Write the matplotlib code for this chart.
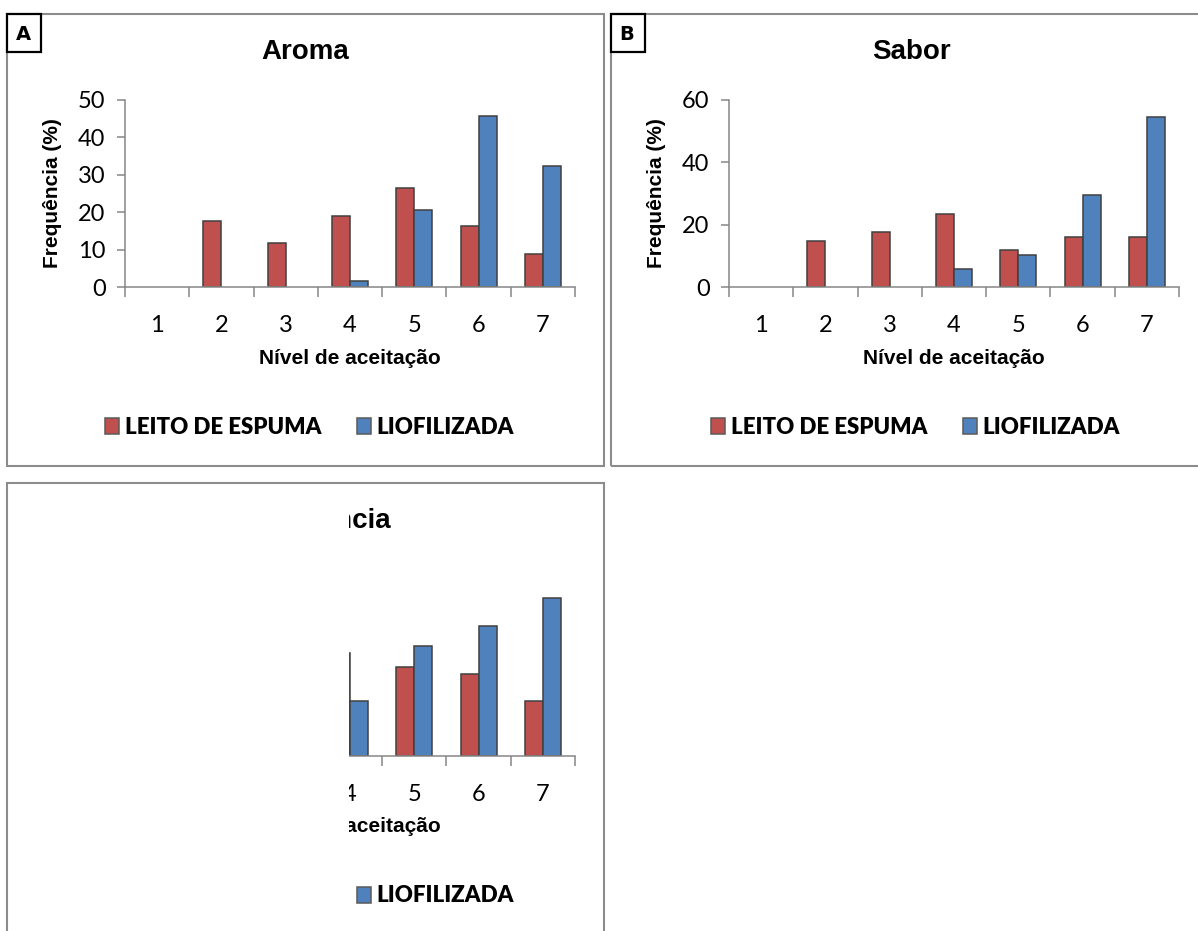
import matplotlib
matplotlib.use('Agg')
import matplotlib.pyplot as plt
from matplotlib.patches import Rectangle, Patch

plt.rcParams['font.family'] = ['Lato', 'DejaVu Sans']

# frequencias (%) por nivel de aceitacao, n = 68 provadores
niveis = [1, 2, 3, 4, 5, 6, 7]
series = ['LEITO DE ESPUMA', 'LIOFILIZADA']
cores = ['#C0504D', '#4F81BD']

aroma_leito = [0, 17.6, 11.8, 19.1, 26.5, 16.2, 8.8]
aroma_liof = [0, 0, 0, 1.5, 20.6, 45.6, 32.4]
sabor_leito = [0, 14.7, 17.6, 23.5, 11.8, 16.2, 16.2]
sabor_liof = [0, 0, 0, 5.9, 10.3, 29.4, 54.4]
cons_leito = [0, 13.2, 16.2, 22.1, 19.1, 17.6, 11.8]
cons_liof = [0, 0, 2.9, 11.8, 23.5, 27.9, 33.8]

W, H = 1198, 931
fig = plt.figure(figsize=(W / 100, H / 100), dpi=100)


def fx(x):
    return x / W


def fy(y):
    return 1 - y / H


def painel(x0, y0, x1, y1, titulo, leito, liof, ymax, ystep, letra=None):
    # moldura do grafico
    fig.add_artist(Rectangle((fx(x0), fy(y1)), (x1 - x0) / W, (y1 - y0) / H,
                             transform=fig.transFigure, fill=False,
                             ec='#8c8c8c', lw=1.5, zorder=21))
    ax0, ay0 = x0 + 118, y0 + 86          # canto superior esquerdo da area de plotagem
    ax = fig.add_axes([fx(ax0), fy(ay0 + 187), 450 / W, 187 / H])
    w = 0.28
    for k, (vals, desloc) in enumerate([(leito, -w / 2), (liof, w / 2)]):
        # barras nulas ficam sem contorno
        ax.bar([n + desloc for n in niveis], vals, width=w, color=cores[k],
               edgecolor='#404040', linewidth=[1.1 if v > 0 else 0 for v in vals])
    ax.set_xlim(0.5, 7.5)
    ax.set_ylim(0, ymax)
    ax.set_yticks(range(0, ymax + 1, ystep))
    ax.set_xticks(niveis)
    ax.set_xticks([n + 0.5 for n in range(0, 8)], minor=True)
    ax.tick_params(axis='x', which='major', length=0, pad=20, labelsize=17)
    ax.tick_params(axis='x', which='minor', length=7, width=1.1, color='#868686')
    ax.tick_params(axis='y', length=6, width=1.1, color='#868686', pad=8, labelsize=17)
    for s in ['top', 'right']:
        ax.spines[s].set_visible(False)
    for s in ['left', 'bottom']:
        ax.spines[s].set_color('#868686')
        ax.spines[s].set_linewidth(1.1)
    ax.patch.set_alpha(0)

    cx = (x0 + x1) / 2
    fig.text(fx(cx), fy(y0 + 38), titulo, ha='center', va='center',
             fontsize=20, fontweight='bold', family='Liberation Sans')
    fig.text(fx(ax0 + 225), fy(y0 + 344), 'Nível de aceitação', ha='center',
             va='center', fontsize=15, fontweight='bold', family='Liberation Sans')
    fig.text(fx(x0 + 46), fy(ay0 + 93), 'Frequência (%)', ha='center', va='center',
             rotation=90, fontsize=15, fontweight='bold', family='Liberation Sans')
    handles = [Patch(facecolor=c, edgecolor='#5a5a5a', linewidth=1.1) for c in cores]
    ax.legend(handles, series, loc='center', bbox_to_anchor=(fx(cx + 4), fy(y0 + 413)),
              bbox_transform=fig.transFigure, ncol=2, frameon=False,
              prop={'weight': 'heavy', 'size': 16}, handlelength=0.62,
              handleheight=0.7, handletextpad=0.25, columnspacing=1.6)

    if letra:
        fig.add_artist(Rectangle((fx(x0), fy(y0 + 38)), 34 / W, 38 / H,
                                 transform=fig.transFigure, fc='white',
                                 ec='black', lw=1.6, zorder=22))
        fig.text(fx(x0 + 16), fy(y0 + 20), letra, ha='center', va='center',
                 fontsize=14, fontweight='bold', family='DejaVu Sans', zorder=23)
    return ax


painel(7, 14, 604, 466, 'Aroma', aroma_leito, aroma_liof, 50, 10, 'A')
painel(611, 14, 1212, 466, 'Sabor', sabor_leito, sabor_liof, 60, 20, 'B')
painel(7, 483, 604, 945, 'Consistência', cons_leito, cons_liof, 40, 10)

# parte esquerda do terceiro grafico encoberta
fig.add_artist(Rectangle((fx(9), 0), (349 - 9) / W, (H - 486) / H,
                         transform=fig.transFigure, fc='white', ec='none', zorder=20))

fig.savefig('out.png', dpi=100)
